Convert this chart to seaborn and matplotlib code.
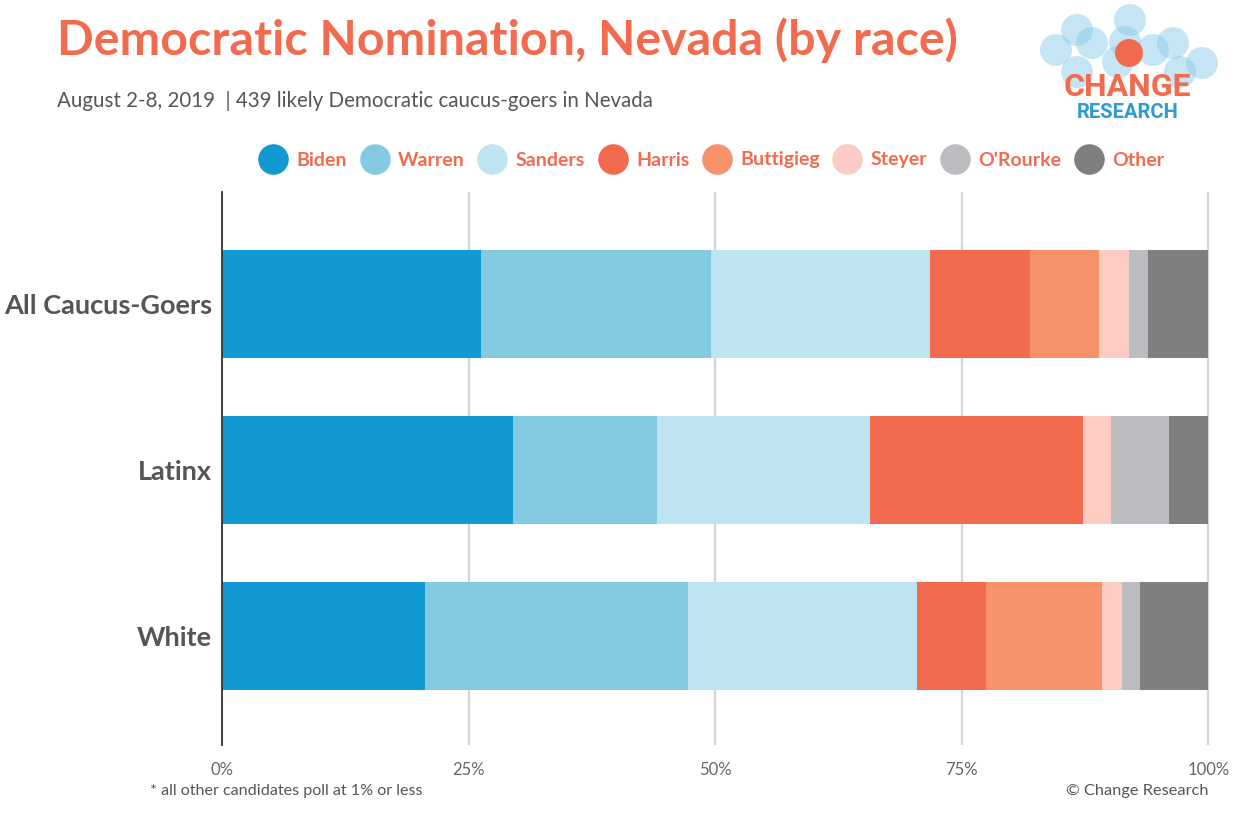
import matplotlib
matplotlib.use("Agg")
import matplotlib.pyplot as plt
from matplotlib.lines import Line2D
from matplotlib.patches import Ellipse
import seaborn as sns
import pandas as pd
import numpy as np

groups = ["All Caucus-Goers", "Latinx", "White"]
candidates = ["Biden", "Warren", "Sanders", "Harris", "Buttigieg", "Steyer", "O'Rourke", "Other"]
biden = [26.3, 29.5, 20.6]
warren = [23.3, 14.6, 26.6]
sanders = [22.2, 21.6, 23.3]
harris = [10.1, 21.6, 7.0]
buttigieg = [7.0, 0.0, 11.7]
steyer = [3.1, 2.8, 2.0]
orourke = [1.9, 5.9, 1.9]
other = [6.1, 4.0, 6.9]
colors = ["#1199D1", "#82CAE2", "#BEE3F1", "#F26B4F", "#F7926B", "#FCCBC2", "#BBBDC0", "#7F7F7F"]
xticks = [0, 25, 50, 75, 100]
xticklabels = ["0%", "25%", "50%", "75%", "100%"]

series = [biden, warren, sanders, harris, buttigieg, steyer, orourke, other]
rows = []
for gi, g in enumerate(groups):
    cum = 0.0
    for ci, c in enumerate(candidates):
        cum += series[ci][gi]
        rows.append({"group": g, "candidate": c, "cum": cum})
df = pd.DataFrame(rows)

CORAL = "#F26B4F"
GRAY = "#555555"

sns.set_theme(style="white")
plt.rcParams["font.family"] = ["Lato", "DejaVu Sans"]

W, H = 1243, 824
fig = plt.figure(figsize=(W / 100, H / 100), dpi=100)
left = 222 / W
top_px, bot_px = 192, 745
ax = fig.add_axes([left, 1 - bot_px / H, (1208.3 - 222) / W * 1.002, (bot_px - top_px) / H])

pal = dict(zip(candidates, colors))
sns.barplot(data=df, x="cum", y="group", hue="candidate", hue_order=candidates[::-1],
            palette=pal, dodge=False, width=0.65, orient="h", legend=False,
            linewidth=0, saturation=1, ax=ax, zorder=3)

ax.set_xlim(0, 100.2)
ax.set_ylim(2.655, -0.673)
ax.set_xticks(xticks)
ax.set_xticklabels(xticklabels)
ax.set_xlabel("")
ax.set_ylabel("")
ax.xaxis.grid(True, color="#d4d4d4", linewidth=1.6, zorder=0)
ax.yaxis.grid(False)
ax.set_axisbelow(True)
for s in ["top", "right", "bottom"]:
    ax.spines[s].set_visible(False)
ax.spines["left"].set_color("#333333")
ax.spines["left"].set_linewidth(1.3)
ax.spines["left"].set_zorder(4)
ax.tick_params(axis="x", length=0, pad=12, labelsize=12, labelcolor="#666666")
ax.tick_params(axis="y", length=0, pad=7, labelsize=19.5, labelcolor=GRAY)
for lbl in ax.get_yticklabels():
    lbl.set_fontweight("bold")

# Title & subtitle
fig.text(57 / W, 1 - 40 / H, "Democratic Nomination, Nevada (by race)", color=CORAL,
         fontsize=34.8, fontweight="bold", va="center", ha="left")
fig.text(57 / W, 1 - 101 / H, "August 2-8, 2019  | 439 likely Democratic caucus-goers in Nevada",
         color=GRAY, fontsize=14.8, va="center", ha="left")

# Legend
handles = [Line2D([0], [0], marker="o", linestyle="", markersize=21,
                  markerfacecolor=c, markeredgecolor=c) for c in colors]
fig.legend(handles, candidates, loc="center", bbox_to_anchor=(709 / W, 1 - 160 / H),
           ncol=8, frameon=False, handletextpad=0.2, columnspacing=0.42,
           labelcolor=CORAL, prop={"weight": "bold", "size": 14})

# Footnotes
fig.text(150 / W, 1 - 791 / H, "* all other candidates poll at 1% or less", color=GRAY,
         fontsize=11.6, va="center", ha="left")
fig.text(1208 / W, 1 - 791 / H, "\u00a9 Change Research", color=GRAY,
         fontsize=11.8, va="center", ha="right")

# Logo
r = 16
bubbles = [(1056, 50), (1077, 30), (1092, 43), (1130, 20), (1125, 42), (1153, 50),
           (1173, 43), (1202, 63), (1077, 72), (1180, 72), (1118, 62)]
for (bx, by) in bubbles:
    fig.patches.append(Ellipse((bx / W, 1 - by / H), 2 * r / W, 2 * r / H,
                               transform=fig.transFigure, facecolor="#8CCDEA",
                               alpha=0.5, edgecolor="none"))
fig.patches.append(Ellipse((1129 / W, 1 - 53 / H), 28 / W, 28 / H, transform=fig.transFigure,
                           facecolor=CORAL, edgecolor="none"))
fig.text(1127 / W, 1 - 87 / H, "CHANGE", color=CORAL, fontsize=23, fontweight="bold",
         ha="center", va="center", family=["Roboto", "DejaVu Sans"])
fig.text(1128 / W, 1 - 112 / H, "RESEARCH", color="#2E9AD6", fontsize=14.5, fontweight="bold",
         ha="center", va="center", family=["Roboto", "DejaVu Sans"])

fig.savefig("out.png", dpi=100)
